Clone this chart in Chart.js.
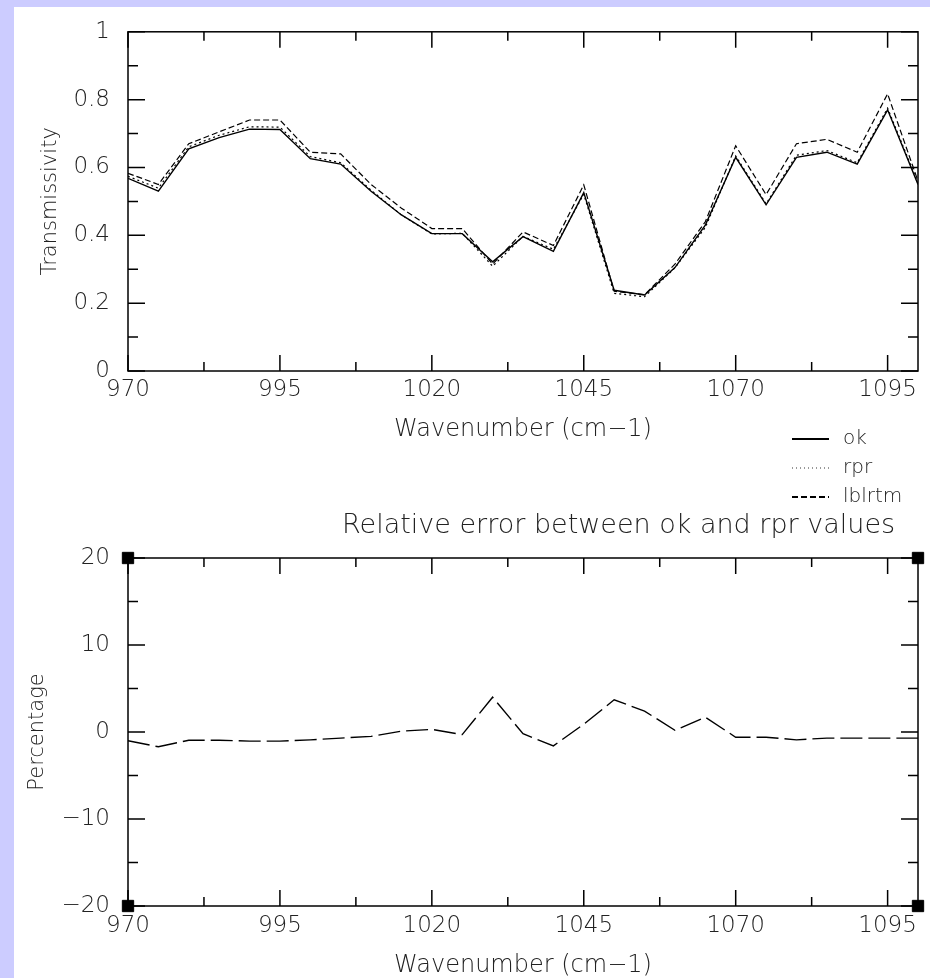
<!DOCTYPE html>
<html lang="en">
<head>
<meta charset="UTF-8">
<title>ok / rpr / lblrtm transmissivity</title>
<style>
    html, body { margin: 0; padding: 0; }
    body {
        width: 930px; height: 978px; position: relative; overflow: hidden;
        background: #ccccff; font-family: "DejaVu Sans", sans-serif; font-weight: 200; color: #222;
    }
    #sheet { position: absolute; left: 14px; top: 7px; width: 916px; height: 971px; background: #fff; }
    canvas { position: absolute; left: 0; }
    #topChart { top: 0; }
    #bottomChart { top: 500px; }
    .legend { position: absolute; left: 792px; height: 20px; font-size: 20px; line-height: 20px; }
    .legend .sample { display: inline-block; width: 37px; height: 2px; vertical-align: middle; margin-right: 14px; }
    .solid { background: #000; }
    .dotted { background: repeating-linear-gradient(90deg, #999 0 1px, transparent 1px 4px); }
    .dashed { background: repeating-linear-gradient(90deg, #000 0 6px, transparent 6px 9px); }
    #errTitle { position: absolute; left: 342px; top: 510px; font-size: 27px; line-height: 27px; white-space: nowrap; }
</style>
</head>
<body>
<div id="sheet"></div>
<canvas id="topChart" width="930" height="480"></canvas>
<canvas id="bottomChart" width="930" height="478"></canvas>

<div class="legend" style="top:427px"><span class="sample solid"></span>ok</div>
<div class="legend" style="top:456px"><span class="sample dotted"></span>rpr</div>
<div class="legend" style="top:485px"><span class="sample dashed"></span>lblrtm</div>
<div id="errTitle">Relative error between ok and rpr values</div>

<script src="https://cdn.jsdelivr.net/npm/chart.js"></script>
<script>
    // values
    const wavenumbers = [970, 975, 980, 985, 990, 995, 1000, 1005, 1010, 1015, 1020, 1025, 1030, 1035,
        1040, 1045, 1050, 1055, 1060, 1065, 1070, 1075, 1080, 1085, 1090, 1095, 1100];
    const okValues = [0.568, 0.530, 0.655, 0.688, 0.713, 0.712, 0.626, 0.610, 0.530, 0.460, 0.405, 0.405, 0.322, 0.396,
        0.353, 0.526, 0.238, 0.224, 0.305, 0.430, 0.630, 0.490, 0.630, 0.645, 0.610, 0.770, 0.550];
    const rprValues = [0.574, 0.539, 0.661, 0.695, 0.720, 0.719, 0.632, 0.614, 0.533, 0.460, 0.404, 0.406, 0.309, 0.397,
        0.359, 0.521, 0.229, 0.219, 0.304, 0.423, 0.634, 0.493, 0.636, 0.650, 0.614, 0.775, 0.554];
    const lblrtmValues = [0.583, 0.550, 0.670, 0.705, 0.740, 0.740, 0.645, 0.640, 0.550, 0.480, 0.420, 0.420, 0.315, 0.410,
        0.370, 0.549, 0.235, 0.225, 0.315, 0.440, 0.664, 0.520, 0.670, 0.683, 0.645, 0.817, 0.560];
    const errorValues = [-1.0, -1.7, -0.95, -0.95, -1.05, -1.05, -0.9, -0.7, -0.5, 0.1, 0.3, -0.3, 4.0, -0.2,
        -1.6, 0.9, 3.7, 2.4, 0.2, 1.7, -0.6, -0.6, -0.9, -0.7, -0.7, -0.7, -0.7];

    const xMajorTicks = [970, 995, 1020, 1045, 1070, 1095];
    const xMinorTicks = [982.5, 1007.5, 1032.5, 1057.5, 1082.5];
    const transMajorTicks = [0, 0.2, 0.4, 0.6, 0.8, 1];
    const transMinorTicks = [0.1, 0.3, 0.5, 0.7, 0.9];
    const errMajorTicks = [-20, -10, 0, 10, 20];
    const errMinorTicks = [-15, -5, 5, 15];
    const cornerX = [970, 970, 1100, 1100];
    const cornerY = [20, -20, 20, -20];

    Chart.defaults.font.family = '"DejaVu Sans", sans-serif';
    Chart.defaults.font.weight = 200;
    Chart.defaults.color = '#222';

    // box round the plot with inward ticks on all four sides
    const frameTicks = {
        id: 'frameTicks',
        afterDraw(chart, args, opts) {
            const {ctx, chartArea: a} = chart;
            const x = chart.scales.x, y = chart.scales.y;
            ctx.save();
            ctx.strokeStyle = '#000';
            ctx.lineWidth = 1.5;
            ctx.strokeRect(a.left, a.top, a.right - a.left, a.bottom - a.top);
            ctx.beginPath();
            const xMarks = (vals, len) => vals.forEach(v => {
                const p = x.getPixelForValue(v);
                ctx.moveTo(p, a.bottom); ctx.lineTo(p, a.bottom - len);
                ctx.moveTo(p, a.top); ctx.lineTo(p, a.top + len);
            });
            const yMarks = (vals, len) => vals.forEach(v => {
                const p = y.getPixelForValue(v);
                ctx.moveTo(a.left, p); ctx.lineTo(a.left + len, p);
                ctx.moveTo(a.right, p); ctx.lineTo(a.right - len, p);
            });
            xMarks(opts.xMajor, 16);
            xMarks(opts.xMinor, 9);
            yMarks(opts.yMajor, 17);
            yMarks(opts.yMinor, 10);
            ctx.stroke();
            ctx.restore();
        }
    };

    function fmt(v) {
        return v < 0 ? '\u2212' + (-v) : String(v);
    }

    function xy(ys) {
        return wavenumbers.map((w, i) => ({x: w, y: ys[i]}));
    }

    function xAxis(height, tickPad, titleBottom) {
        return {
            type: 'linear', min: 970, max: 1100,
            afterBuildTicks: s => { s.ticks = xMajorTicks.map(v => ({value: v})); },
            afterFit: s => { s.height = height; },
            grid: {display: false, drawTicks: false},
            border: {display: false},
            ticks: {padding: tickPad, font: {size: 23}, maxRotation: 0, autoSkip: false, callback: fmt},
            title: {display: true, text: 'Wavenumber (cm\u22121)', font: {size: 24, lineHeight: 1},
                padding: {top: 0, bottom: titleBottom}}
        };
    }

    function yAxis(min, max, ticks, title, titleTop) {
        return {
            min: min, max: max,
            afterBuildTicks: s => { s.ticks = ticks.map(v => ({value: v})); },
            afterFit: s => { s.width = 128; },
            grid: {display: false, drawTicks: false},
            border: {display: false},
            ticks: {padding: 18, font: {size: 23}, autoSkip: false, callback: fmt},
            title: {display: true, text: title, font: {size: 21, lineHeight: 1},
                padding: {top: titleTop, bottom: 0}}
        };
    }

    const common = {
        responsive: false,
        animation: false,
        elements: {line: {tension: 0, borderWidth: 1.4}, point: {radius: 0}},
        plugins: {legend: {display: false}, tooltip: {enabled: false}}
    };

    new Chart(document.getElementById('topChart'), {
        type: 'line',
        data: {
            datasets: [
                {label: 'ok', data: xy(okValues), borderColor: '#000'},
                {label: 'rpr', data: xy(rprValues), borderColor: '#000', borderDash: [2, 3], borderWidth: 1.2},
                {label: 'lblrtm', data: xy(lblrtmValues), borderColor: '#000', borderDash: [6, 3], borderWidth: 1.2}
            ]
        },
        options: {
            ...common,
            layout: {padding: {left: 0, right: 12, top: 23, bottom: 0}},
            scales: {
                x: xAxis(109, 5, 38),
                y: yAxis(0, 1, transMajorTicks, 'Transmissivity', 40)
            },
            plugins: {
                ...common.plugins,
                frameTicks: {xMajor: xMajorTicks, xMinor: xMinorTicks, yMajor: transMajorTicks, yMinor: transMinorTicks}
            }
        },
        plugins: [frameTicks]
    });

    new Chart(document.getElementById('bottomChart'), {
        type: 'line',
        data: {
            datasets: [
                {label: 'relative error', data: xy(errorValues), borderColor: '#000', borderDash: [22, 6]},
                {
                    label: 'corners', data: cornerX.map((v, i) => ({x: v, y: cornerY[i]})),
                    showLine: false, pointStyle: 'rect', pointRadius: 8, backgroundColor: '#000',
                    borderColor: '#000', clip: false
                }
            ]
        },
        options: {
            ...common,
            layout: {padding: {left: 0, right: 12, top: 58, bottom: 0}},
            scales: {
                x: xAxis(72, 6, 0),
                y: yAxis(-20, 20, errMajorTicks, 'Percentage', 27)
            },
            plugins: {
                ...common.plugins,
                frameTicks: {xMajor: xMajorTicks, xMinor: xMinorTicks, yMajor: errMajorTicks, yMinor: errMinorTicks}
            }
        },
        plugins: [frameTicks]
    });
</script>
</body>
</html>
